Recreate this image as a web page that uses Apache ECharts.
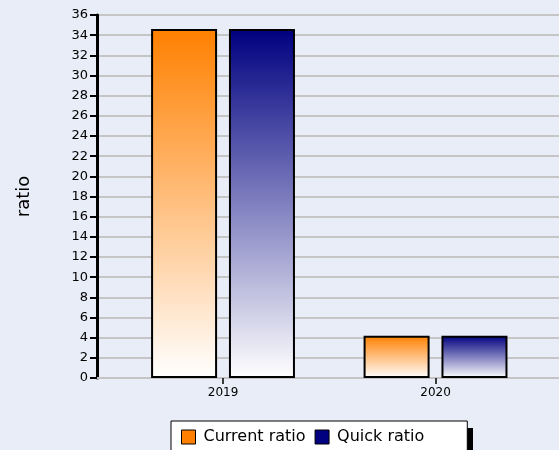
<!DOCTYPE html>
<html><head><meta charset="utf-8">
<script src="https://cdn.jsdelivr.net/npm/echarts@6/dist/echarts.min.js"></script>
<style>html,body{margin:0;padding:0;background:#E9EDF7}#c{width:559px;height:450px}</style>
</head><body><div id="c"></div>
<script>
const categories = ['2019', '2020'];
const currentRatio = [34.6, 4.2];
const quickRatio = [34.6, 4.2];
const yTicks = { min: 0, max: 36, interval: 2 };

const chart = echarts.init(document.getElementById('c'), null, { renderer: 'canvas' });
const font = 'DejaVu Sans';
function grad(top) {
  return new echarts.graphic.LinearGradient(0, 0, 0, 1, [
    { offset: 0, color: top }, { offset: 1, color: '#ffffff' }
  ]);
}
const idx = categories.map((c, i) => i);
chart.setOption({
  backgroundColor: '#E9EDF7',
  animation: false,
  textStyle: { fontFamily: font },
  grid: { left: 97, right: 0, top: 15, bottom: 72, containLabel: false },
  graphic: [{
    type: 'rect', z: 0, silent: true,
    shape: { x: 177, y: 428, width: 296, height: 40 },
    style: { fill: '#000' }
  }],
  xAxis: {
    type: 'value', min: -0.593, max: 1.581,
    axisLine: { show: true, onZero: false, lineStyle: { color: '#c4c4c4', width: 2 } },
    axisTick: { show: true, customValues: idx, length: 6, lineStyle: { color: '#000', width: 1.5 } },
    axisLabel: { show: true, customValues: idx, formatter: v => categories[Math.round(v)], color: '#000', fontSize: 12, fontFamily: font, margin: 9 },
    splitLine: { show: false }
  },
  yAxis: {
    type: 'value', min: yTicks.min, max: yTicks.max, interval: yTicks.interval,
    name: 'ratio', nameLocation: 'middle', nameGap: 64, nameRotate: 90,
    nameTextStyle: { fontSize: 18, color: '#000', fontFamily: font },
    axisLine: { show: true, onZero: false, lineStyle: { color: '#000', width: 3 } },
    axisTick: { show: true, length: 7, lineStyle: { color: '#000', width: 2 } },
    axisLabel: { color: '#000', fontSize: 13, fontFamily: font, margin: 9 },
    splitLine: { show: true, lineStyle: { color: '#c6c6c6', width: 2 } }
  },
  legend: {
    left: 171, top: 421, z: 5,
    data: [
      { name: 'Current ratio', itemStyle: { color: '#FF8000', borderColor: '#000', borderWidth: 1 } },
      { name: 'Quick ratio', itemStyle: { color: '#000080', borderColor: '#000', borderWidth: 1 } }
    ],
    icon: 'rect', itemWidth: 14, itemHeight: 14, itemGap: 9,
    padding: [8, 43, 8, 10],
    backgroundColor: '#ffffff', borderColor: '#000', borderWidth: 1,
    textStyle: { fontSize: 16, color: '#000', fontFamily: font, padding: [0, 0, 0, 3] }
  },
  series: [
    {
      name: 'Current ratio', type: 'bar', barWidth: 66, barGap: '18%',
      data: currentRatio.map((v, i) => [i, v]),
      itemStyle: { color: grad('#FF8000'), borderColor: '#000', borderWidth: 2 }
    },
    {
      name: 'Quick ratio', type: 'bar', barWidth: 66, barGap: '18%',
      data: quickRatio.map((v, i) => [i, v]),
      itemStyle: { color: grad('#000080'), borderColor: '#000', borderWidth: 2 }
    }
  ]
});
</script></body></html>
